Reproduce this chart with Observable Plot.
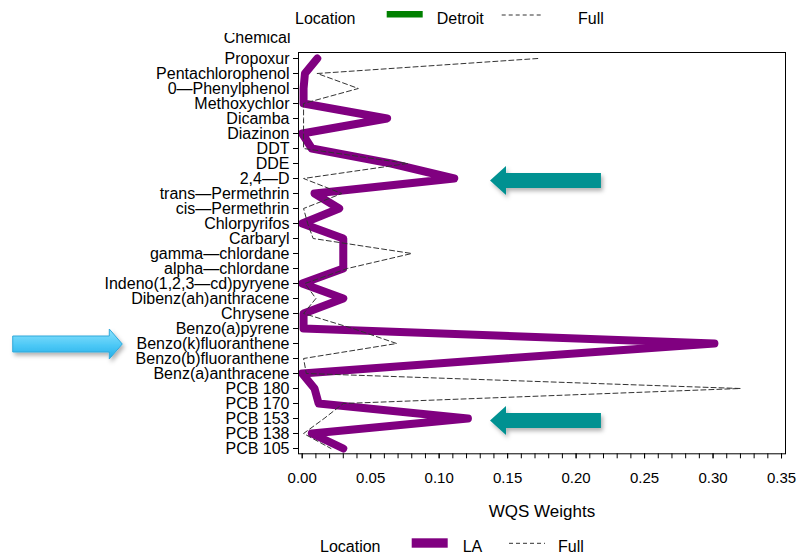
<!DOCTYPE html>
<html>
<head>
<meta charset="utf-8">
<script src="https://cdn.jsdelivr.net/npm/d3@7"></script>
<script src="https://cdn.jsdelivr.net/npm/@observablehq/plot@0.6"></script>
<style>
  body { margin: 0; background: #fff; }
  #wrap { position: relative; width: 800px; height: 555px; overflow: hidden; background: #fff;
          font-family: "Liberation Sans", Arial, Helvetica, sans-serif; }
  #wrap svg { display: block; }
</style>
</head>
<body>
<div id="wrap">
  <svg id="legendTop" width="800" height="33"></svg>
  <div id="chart"></div>
  <svg id="legendBottom" width="800" height="25"></svg>
</div>
<script>
// Chemicals, listed top to bottom
const chemicals = [
  "Propoxur", "Pentachlorophenol", "0\u2014Phenylphenol", "Methoxychlor", "Dicamba",
  "Diazinon", "DDT", "DDE", "2,4\u2014D", "trans\u2014Permethrin", "cis\u2014Permethrin",
  "Chlorpyrifos", "Carbaryl", "gamma\u2014chlordane", "alpha\u2014chlordane",
  "Indeno(1,2,3\u2014cd)pyryene", "Dibenz(ah)anthracene", "Chrysene", "Benzo(a)pyrene",
  "Benzo(k)fluoranthene", "Benzo(b)fluoranthene", "Benz(a)anthracene",
  "PCB 180", "PCB 170", "PCB 153", "PCB 138", "PCB 105"
];

// WQS weights, LA model
const laWeights = [
  0.011, 0.002, 0.001, 0.001, 0.062,
  0.000, 0.007, 0.065, 0.111, 0.009, 0.027,
  0.000, 0.030, 0.030, 0.030,
  0.000, 0.030, 0.001, 0.001,
  0.301, 0.148, 0.000,
  0.009, 0.012, 0.121, 0.007, 0.030
];

// WQS weights, full model
const fullWeights = [
  0.172, 0.011, 0.041, 0.001, 0.001,
  0.001, 0.001, 0.077, 0.001, 0.029, 0.001,
  0.004, 0.008, 0.080, 0.033,
  0.002, 0.010, 0.001, 0.037,
  0.069, 0.001, 0.003,
  0.320, 0.030, 0.016, 0.001, 0.021
];

const majorTicks = [0, 0.05, 0.10, 0.15, 0.20, 0.25, 0.30, 0.35];
const minorTicks = d3.range(0, 36).map(i => i / 100);

const legendTitle = "Location";
const topLegend = ["Detroit", "Full"];
const bottomLegend = ["LA", "Full"];

// Callout arrows: target chemical and the x extent (tail -> head)
const callouts = [
  {chemical: "2,4\u2014D", tail: 0.2185, head: 0.1375, kind: "teal"},
  {chemical: "PCB 153", tail: 0.2185, head: 0.1375, kind: "teal"},
  {chemical: "Benzo(k)fluoranthene", tail: -0.211, head: -0.131, kind: "blue"}
];

const FONT = '"Liberation Sans", Arial, Helvetica, sans-serif';
const PURPLE = "#800080";
const GREEN = "#008000";
const DASH = "#333333";

const laRows = chemicals.map((c, i) => ({chemical: c, weight: laWeights[i]}));
const fullRows = chemicals.map((c, i) => ({chemical: c, weight: fullWeights[i]}));

const chart = Plot.plot({
  width: 800,
  height: 497,
  marginTop: 19,
  marginBottom: 76.7,
  marginLeft: 298,
  marginRight: 15,
  style: {fontFamily: FONT, fontSize: "16px", color: "black", background: "white", overflow: "hidden"},
  x: {domain: [-0.0027, 0.3529]},
  y: {type: "point", domain: chemicals, padding: 0.33},
  marks: [
    Plot.axisY({tickSize: 5, tickPadding: 4, fontSize: 16, label: null}),
    Plot.axisX({ticks: minorTicks, tickSize: 5, tickFormat: () => "", label: null}),
    Plot.axisX({ticks: majorTicks, tickSize: 5, tickPadding: 14, fontSize: 15,
                tickFormat: d3.format(".2f"), label: null}),
    Plot.text(["WQS Weights"], {text: d => d, frameAnchor: "bottom", lineAnchor: "middle",
                                dy: 57.7, fontSize: 17}),
    Plot.text(["Chemical"], {text: d => d, frameAnchor: "top-left", lineAnchor: "middle",
                             textAnchor: "end", dx: -8, dy: -14.6, fontSize: 16}),
    Plot.line(laRows, {x: "weight", y: "chemical", stroke: PURPLE, strokeWidth: 8,
                       strokeLinejoin: "round", strokeLinecap: "round"}),
    Plot.line(fullRows, {x: "weight", y: "chemical", stroke: DASH, strokeWidth: 1,
                         strokeDasharray: "5,3"}),
    Plot.frame({stroke: "black", strokeWidth: 1})
  ]
});
document.getElementById("chart").appendChild(chart);

// Callout arrows, placed through the plot's scales
const sx = chart.scale("x"), sy = chart.scale("y");
const svg = d3.select(chart);
const defs = svg.append("defs");
const grad = defs.append("linearGradient").attr("id", "blueFill")
  .attr("x1", 0).attr("y1", 0).attr("x2", 0).attr("y2", 1);
grad.append("stop").attr("offset", "0%").attr("stop-color", "#8fe3fd");
grad.append("stop").attr("offset", "55%").attr("stop-color", "#4cc8f6");
grad.append("stop").attr("offset", "100%").attr("stop-color", "#22aee8");
const shadow = defs.append("filter").attr("id", "arrowShadow")
  .attr("x", "-20%").attr("y", "-40%").attr("width", "150%").attr("height", "200%");
shadow.append("feDropShadow").attr("dx", 2).attr("dy", 3).attr("stdDeviation", 2)
  .attr("flood-color", "#000").attr("flood-opacity", 0.3);

const style = {
  teal: {fill: "#009191", stroke: "none", headLen: 16, headHalf: 14.5, shaftHalf: 7.5, dy: 2.5},
  blue: {fill: "url(#blueFill)", stroke: "#31a9da", headLen: 13, headHalf: 15, shaftHalf: 8, dy: 1}
};
for (const c of callouts) {
  const s = style[c.kind];
  const xt = sx.apply(c.tail), xh = sx.apply(c.head);
  const yc = sy.apply(c.chemical) + s.dy;
  const dir = Math.sign(xt - xh);          // +1 when the head points left
  const xb = xh + dir * s.headLen;         // base of the head
  const pts = [
    [xh, yc],
    [xb, yc - s.headHalf],
    [xb, yc - s.shaftHalf],
    [xt, yc - s.shaftHalf],
    [xt, yc + s.shaftHalf],
    [xb, yc + s.shaftHalf],
    [xb, yc + s.headHalf]
  ];
  svg.append("polygon")
    .attr("points", pts.map(p => p.join(",")).join(" "))
    .attr("fill", s.fill)
    .attr("stroke", s.stroke)
    .attr("stroke-width", 1)
    .attr("filter", "url(#arrowShadow)");
}

// Legends above and below the plot
function drawLegend(id, layout, series, swatchColor) {
  const g = d3.select("#" + id).style("font-family", FONT).style("font-size", "16px");
  g.append("text").attr("x", layout.title).attr("y", layout.baseline).text(legendTitle);
  g.append("rect").attr("x", layout.swatch[0]).attr("width", layout.swatch[1] - layout.swatch[0])
    .attr("y", layout.swatchY[0]).attr("height", layout.swatchY[1] - layout.swatchY[0])
    .attr("fill", swatchColor);
  g.append("text").attr("x", layout.label1).attr("y", layout.baseline).text(series[0]);
  g.append("line").attr("x1", layout.dash[0]).attr("x2", layout.dash[1])
    .attr("y1", layout.dashY).attr("y2", layout.dashY)
    .attr("stroke", DASH).attr("stroke-width", 1).attr("stroke-dasharray", "4,3");
  g.append("text").attr("x", layout.label2).attr("y", layout.baseline).text(series[1]);
}
drawLegend("legendTop", {
  title: 295, baseline: 23.5, swatch: [386.7, 422.7], swatchY: [11, 17.5],
  label1: 436.7, dash: [501.7, 541.7], dashY: 15, label2: 578
}, topLegend, GREEN);
drawLegend("legendBottom", {
  title: 320, baseline: 21.5, swatch: [411.7, 447.7], swatchY: [8.3, 17.7],
  label1: 462.7, dash: [509, 545], dashY: 13.3, label2: 558
}, bottomLegend, PURPLE);
</script>
</body>
</html>
